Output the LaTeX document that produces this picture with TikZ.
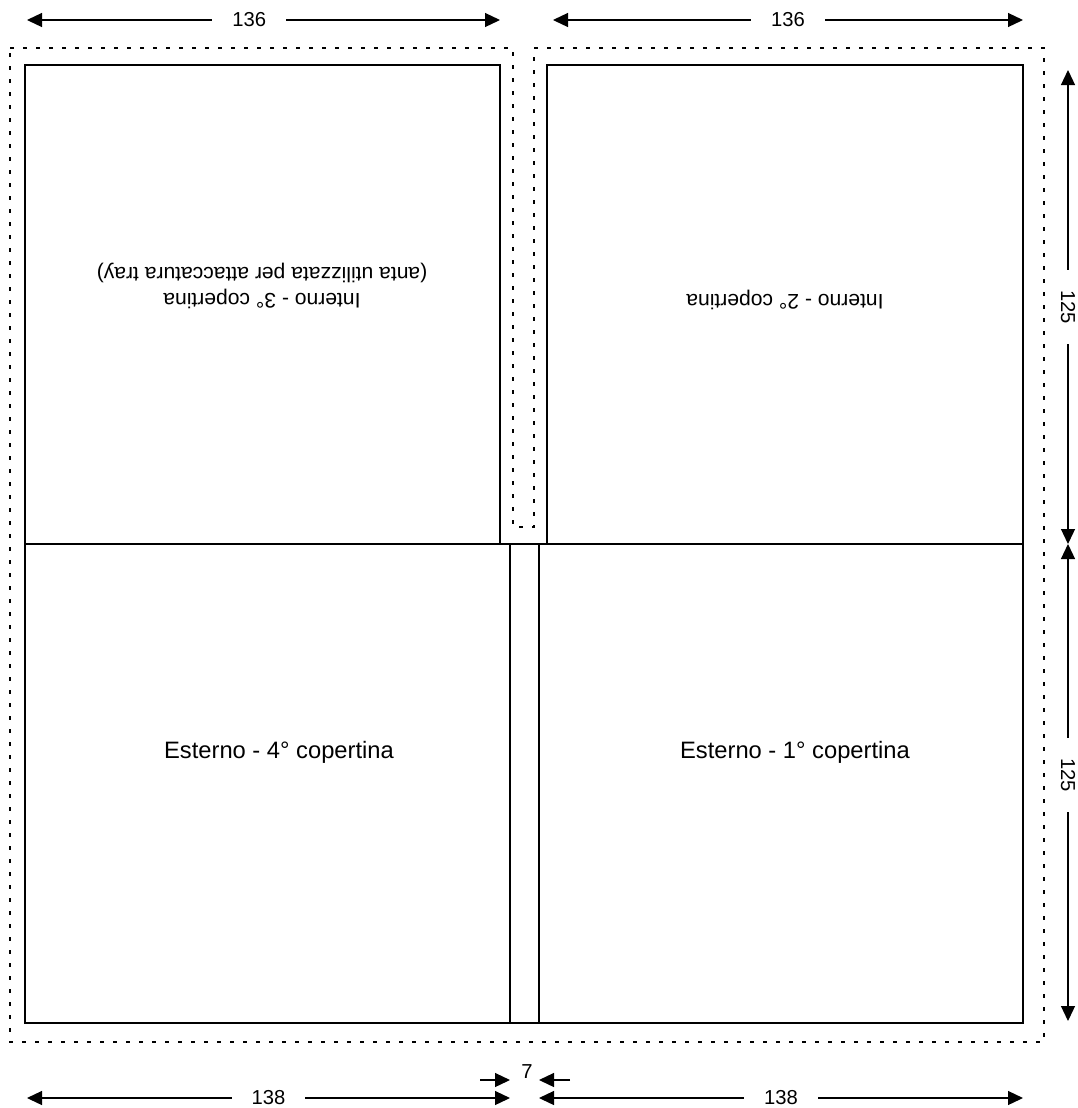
\documentclass[tikz,border=0pt]{standalone}
\usepackage{fontspec}
\setmainfont{Liberation Sans}
\usetikzlibrary{arrows.meta}
\begin{document}
\begin{tikzpicture}[x=0.2mm, y=-0.2mm]
\tikzstyle{panel}=[draw, line width=0.25mm]
\tikzstyle{cutline}=[draw, line width=0.3mm, dash pattern=on 0.7mm off 1.9mm]
\tikzstyle{dim}=[draw, line width=0.25mm, {Triangle[length=3mm,width=2.8mm]}-{Triangle[length=3mm,width=2.8mm]}]
\tikzstyle{dimhead}=[draw, line width=0.25mm, -{Triangle[length=3mm,width=2.8mm]}]
\tikzstyle{dimlabel}=[fill=white, inner xsep=4mm, inner ysep=1mm, font=\fontsize{11.5}{13}\selectfont]
\tikzstyle{facetext}=[align=center, font=\fontsize{12}{14.5}\selectfont]
\useasboundingbox (0,0) rectangle (1078,1108);

% Define corners
\coordinate (tl) at (25,65);
\coordinate (tm) at (500,544);
\coordinate (tr1) at (547,65);
\coordinate (tr2) at (1023,544);
\coordinate (bl) at (25,544);
\coordinate (br) at (1023,1023);
\coordinate (sp1) at (510,544);
\coordinate (sp2) at (510,1023);
\coordinate (sp3) at (539,544);
\coordinate (sp4) at (539,1023);

% Panels
\draw[panel] (tl) rectangle (tm);
\draw[panel] (tr1) rectangle (tr2);
\draw[panel] (bl) rectangle (br);
\draw[panel] (sp1) -- (sp2);
\draw[panel] (sp3) -- (sp4);

% Cut outline
\draw[cutline] (10,48) -- (513,48) -- (513,527) -- (534,527) -- (534,48)
  -- (1044,48) -- (1044,1042) -- (10,1042) -- cycle;

% Face texts
\node[facetext, rotate=180] (int3) at (262,286) {Interno - 3° copertina\\(anta utilizzata per attaccatura tray)};
\node[facetext, rotate=180] (int2) at (785,300) {Interno - 2° copertina};
\node[facetext, font=\fontsize{13.5}{16}\selectfont] (est4) at (279,752) {Esterno - 4° copertina};
\node[facetext, font=\fontsize{13.5}{16}\selectfont] (est1) at (795,752) {Esterno - 1° copertina};

% Dimension ends
\coordinate (t1a) at (27,20);
\coordinate (t1b) at (500,20);
\coordinate (t2a) at (553,20);
\coordinate (t2b) at (1023,20);
\coordinate (b1a) at (27,1098);
\coordinate (b1b) at (510,1098);
\coordinate (b2a) at (539,1098);
\coordinate (b2b) at (1023,1098);
\coordinate (s1a) at (480,1080);
\coordinate (s1b) at (510,1080);
\coordinate (s2a) at (570,1080);
\coordinate (s2b) at (539,1080);
\coordinate (r1a) at (1068,70);
\coordinate (r1b) at (1068,544);
\coordinate (r2a) at (1068,544);
\coordinate (r2b) at (1068,1021);

% Dimensions
\draw[dim] (t1a) -- node[dimlabel, pos=0.47] (w1) {136} (t1b);
\draw[dim] (t2a) -- node[dimlabel] (w2) {136} (t2b);
\draw[dim] (b1a) -- node[dimlabel] (w3) {138} (b1b);
\draw[dim] (b2a) -- node[dimlabel] (w4) {138} (b2b);
\draw[dim] (r1a) -- node[dimlabel, rotate=-90] (h1) {125} (r1b);
\draw[dim] (r2a) -- node[dimlabel, rotate=-90, pos=0.485] (h2) {125} (r2b);
\draw[dimhead] (s1a) -- (s1b);
\draw[dimhead] (s2a) -- (s2b);
\node[font=\fontsize{11.5}{13}\selectfont] (spine) at (527,1072) {7};
\end{tikzpicture}
\end{document}
